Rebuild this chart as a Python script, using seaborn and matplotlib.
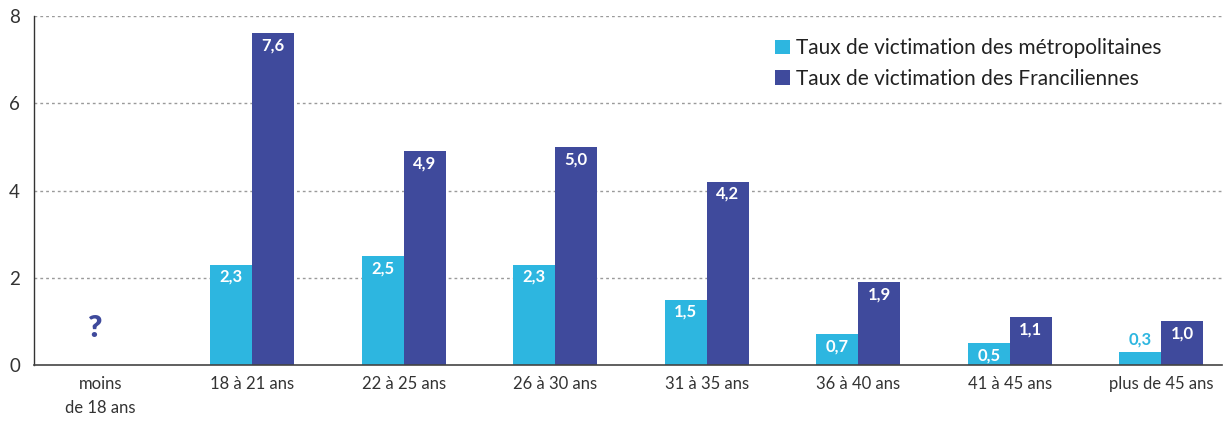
import matplotlib
matplotlib.use("Agg")
import matplotlib.pyplot as plt
import seaborn as sns
import pandas as pd

categories = ["moins\nde 18 ans", "18 à 21 ans", "22 à 25 ans", "26 à 30 ans",
              "31 à 35 ans", "36 à 40 ans", "41 à 45 ans", "plus de 45 ans"]
series_names = ["Taux de victimation des métropolitaines",
                "Taux de victimation des Franciliennes"]
metro = [None, 2.3, 2.5, 2.3, 1.5, 0.7, 0.5, 0.3]
franc = [None, 7.6, 4.9, 5.0, 4.2, 1.9, 1.1, 1.0]
y_ticks = [0, 2, 4, 6, 8]

colors = ["#2DB6E0", "#3F4A9C"]

rows = []
for c, m, f in zip(categories, metro, franc):
    rows.append({"cat": c, "serie": series_names[0], "val": m})
    rows.append({"cat": c, "serie": series_names[1], "val": f})
df = pd.DataFrame(rows)

sns.set_theme(style="white")
plt.rcParams["font.family"] = ["Lato", "DejaVu Sans"]

fig = plt.figure(figsize=(12.27, 4.21), dpi=100)
ax = fig.add_axes([0.0277, 0.133, 0.9682, 0.829])

W = 0.556
sns.barplot(data=df, x="cat", y="val", hue="serie", order=categories,
            hue_order=series_names, palette=colors, width=W,
            saturation=1, ax=ax, errorbar=None, linewidth=0)

ax.set_ylim(0, 8)
ax.set_xlim(-0.44, 7.40)
ax.set_yticks(y_ticks)
ax.set_yticklabels([str(t) for t in y_ticks])
for t in y_ticks[1:]:
    ax.axhline(t, color="#9a9a9a", linestyle=(0, (2, 2.2)), linewidth=1.0, zorder=0)

ax.set_xlabel("")
ax.set_ylabel("")
for s in ["top", "right"]:
    ax.spines[s].set_visible(False)
ax.spines["left"].set_color("#333333")
ax.spines["bottom"].set_color("#444444")
ax.spines["left"].set_linewidth(1.0)
ax.spines["bottom"].set_linewidth(1.2)
ax.tick_params(axis="y", length=0, pad=10, labelsize=13.5, labelcolor="#333333")
ax.tick_params(axis="x", length=0, pad=8, labelsize=12, labelcolor="#333333")
for lbl in ax.get_xticklabels():
    lbl.set_linespacing(1.6)

# value labels
offsets = [-W / 4, W / 4]
for vals, col, off in zip([metro, franc], colors, offsets):
    for i, v in enumerate(vals):
        if v is None:
            continue
        x = i + off
        txt = f"{v:.1f}".replace(".", ",")
        if v < 0.5:
            ax.annotate(txt, (x, v), xytext=(0, 3), textcoords="offset points",
                        ha="center", va="bottom", color=col, fontsize=12,
                        fontweight="bold")
        else:
            ax.annotate(txt, (x, v), xytext=(0, -3), textcoords="offset points",
                        ha="center", va="top", color="white", fontsize=12,
                        fontweight="bold")

# question mark for missing category
ax.text(-0.04, 0.85, "?", ha="center", va="center", color="#3F4A9C",
        fontsize=22, fontweight="heavy")

leg = ax.legend(loc="upper right", bbox_to_anchor=(0.965, 0.99), frameon=False,
                fontsize=15, handlelength=0.7, handleheight=0.7,
                handletextpad=0.3, labelspacing=0.5)
for t in leg.get_texts():
    t.set_color("#222222")

fig.savefig("out.png", dpi=100)
